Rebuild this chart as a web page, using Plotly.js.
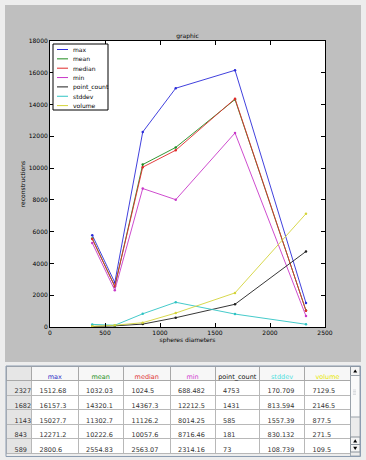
<!DOCTYPE html>
<html><head><meta charset="utf-8">
<script src="https://cdn.plot.ly/plotly-3.0.1.min.js"></script>
<style>html,body{margin:0;padding:0;background:#ededed;overflow:hidden;} #chart{width:366px;height:460px;}</style>
</head><body><div id="chart"></div>
<script>
// ---- data ----
const diameters = [384, 589, 843, 1143, 1682, 2327];
const maxVals = [5780, 2800.6, 12271.2, 15027.7, 16157.3, 1512.68];
const meanVals = [5570, 2554.83, 10222.6, 11302.7, 14320.1, 1032.03];
const medianVals = [5540, 2563.07, 10057.6, 11126.2, 14367.3, 1024.5];
const minVals = [5290, 2314.16, 8716.46, 8014.25, 12212.5, 688.482];
const pointCountVals = [30, 73, 181, 585, 1431, 4753];
const stddevVals = [165, 108.739, 830.132, 1557.39, 813.594, 170.709];
const volumeVals = [40, 109.5, 271.5, 877.5, 2146.5, 7129.5];
const seriesNames = ['max', 'mean', 'median', 'min', 'point_count', 'stddev', 'volume'];
const seriesValues = [maxVals, meanVals, medianVals, minVals, pointCountVals, stddevVals, volumeVals];
const lineColors = ['#2b2bd9', '#1e8a1e', '#e02a2a', '#c838c8', '#202020', '#30c4c4', '#d4d43a'];
const headerColors = ['#3030c8', '#249024', '#e03838', '#d040d0', '#101010', '#50e0e0', '#e8e800'];
const visibleTableRows = 5; // rows shown in the (scrolled) table view

const W = 366, H = 460;
const px = x => x / W, py = y => 1 - y / H;
const font = 'DejaVu Sans, sans-serif';

const traces = seriesNames.map((n, i) => ({
  type: 'scatter', mode: 'lines+markers', name: n,
  x: diameters, y: seriesValues[i],
  line: {color: lineColors[i], width: 0.9},
  marker: {color: lineColors[i], size: 2.5},
  showlegend: false, xaxis: 'x', yaxis: 'y'
}));

// table (rows in descending diameter order, visible part)
const order = diameters.map((d, i) => i).reverse().slice(0, visibleTableRows);
const fmt = v => String(Number(v.toPrecision(6)));
const tableCols = [order.map(i => String(diameters[i]))].concat(
  seriesValues.map(arr => order.map(i => fmt(arr[i]))));
traces.push({
  type: 'table',
  domain: {x: [px(6.5), px(350.5)], y: [py(456), py(366.5)]},
  columnwidth: [25, 46.5, 45.5, 46.5, 45, 44.5, 45, 46],
  header: {
    values: [''].concat(seriesNames),
    align: 'center', height: 14,
    fill: {color: ['#e6e6e6'].concat(seriesNames.map(() => '#f7f7f7'))},
    line: {color: '#a8a8a8', width: 1},
    font: {family: font, size: 6.5, color: ['#000'].concat(headerColors)}
  },
  cells: {
    values: tableCols,
    align: 'left', height: 14.6,
    fill: {color: ['#e4e4e4'].concat(seriesNames.map(() => '#ffffff'))},
    line: {color: '#b8b8b8', width: 1},
    font: {family: font, size: 6.5, color: '#333'}
  }
});

// shapes: figure background, plot area, legend, table frame and scrollbar
const shapes = [
  {type: 'rect', xref: 'paper', yref: 'paper', layer: 'below',
   x0: px(5), x1: px(361), y0: py(362), y1: py(5), fillcolor: '#bfbfbf', line: {width: 0}},
  {type: 'rect', xref: 'paper', yref: 'paper', layer: 'below',
   x0: px(50), x1: px(325), y0: py(327), y1: py(41), fillcolor: '#ffffff', line: {width: 0}},
  {type: 'rect', xref: 'paper', yref: 'paper',
   x0: px(53), x1: px(108), y0: py(110), y1: py(44), fillcolor: '#ffffff', line: {color: '#000', width: 1}},
  // scrollbar track
  {type: 'rect', xref: 'paper', yref: 'paper',
   x0: px(350.5), x1: px(360), y0: py(456), y1: py(366.5), fillcolor: '#ececec', line: {color: '#a0a8b0', width: 1}},
  // top button
  {type: 'rect', xref: 'paper', yref: 'paper',
   x0: px(350.5), x1: px(360), y0: py(375.5), y1: py(366.5), fillcolor: '#f4f4f4', line: {color: '#8a929a', width: 1}},
  // handle
  {type: 'rect', xref: 'paper', yref: 'paper',
   x0: px(350.5), x1: px(360), y0: py(417), y1: py(375.5), fillcolor: '#fafafa', line: {color: '#9aa2aa', width: 1}},
  // bottom buttons
  {type: 'rect', xref: 'paper', yref: 'paper',
   x0: px(350.5), x1: px(360), y0: py(444.5), y1: py(437), fillcolor: '#f4f4f4', line: {color: '#8a929a', width: 1}},
  {type: 'rect', xref: 'paper', yref: 'paper',
   x0: px(350.5), x1: px(360), y0: py(452), y1: py(444.5), fillcolor: '#f4f4f4', line: {color: '#8a929a', width: 1}},
  // table outer frame
  {type: 'rect', xref: 'paper', yref: 'paper',
   x0: px(6), x1: px(360.5), y0: py(456.5), y1: py(366), line: {color: '#8c9cb0', width: 1}}
];
// scrollbar arrows
const tri = (cx, cy, up) => {
  const h = up ? -1.6 : 1.6;
  return {type: 'path', xref: 'paper', yref: 'paper', fillcolor: '#000', line: {width: 0},
    path: `M ${px(cx - 2)} ${py(cy - h)} L ${px(cx + 2)} ${py(cy - h)} L ${px(cx)} ${py(cy + h)} Z`};
};
shapes.push(tri(355.2, 371, true), tri(355.2, 440.8, true), tri(355.2, 448.3, false));
// grip dots on handle
for (let k = 0; k < 4; k++) {
  shapes.push({type: 'line', xref: 'paper', yref: 'paper',
    x0: px(353), x1: px(357.5), y0: py(390 + k * 1.5), y1: py(390 + k * 1.5),
    line: {color: '#c4c8cc', width: 0.6, dash: 'dot'}});
}

const annotations = [];
seriesNames.forEach((n, i) => {
  const yy = 49.5 + 9.35 * i;
  shapes.push({type: 'line', xref: 'paper', yref: 'paper',
    x0: px(57), x1: px(68), y0: py(yy), y1: py(yy), line: {color: lineColors[i], width: 1}});
  annotations.push({xref: 'paper', yref: 'paper', x: px(70.5), y: py(yy), text: n,
    showarrow: false, xanchor: 'left', yanchor: 'middle',
    font: {family: font, size: 6, color: '#000'}});
});

const axisCommon = {
  showline: true, linecolor: '#000', linewidth: 1, mirror: 'ticks',
  ticks: 'inside', ticklen: 4, tickcolor: '#000', tickwidth: 1,
  showgrid: false, zeroline: false, tickformat: 'd',
  tickfont: {family: font, size: 6, color: '#000'}
};

const layout = {
  width: W, height: H,
  margin: {l: 0, r: 0, t: 0, b: 0},
  paper_bgcolor: '#ededed', plot_bgcolor: 'rgba(0,0,0,0)',
  showlegend: false,
  title: {text: 'graphic', x: px(187.5), y: py(36), xref: 'paper', yref: 'paper',
          xanchor: 'center', yanchor: 'middle', font: {family: font, size: 6, color: '#000'}},
  xaxis: Object.assign({}, axisCommon, {
    domain: [px(50), px(325)], range: [0, 2500], dtick: 500, tick0: 0,
    title: {text: 'spheres diameters', standoff: 1, font: {family: font, size: 6, color: '#000'}}
  }),
  yaxis: Object.assign({}, axisCommon, {
    domain: [py(327), py(41)], range: [0, 18000], dtick: 2000, tick0: 0,
    title: {text: 'reconstructions', standoff: 2, font: {family: font, size: 6, color: '#000'}}
  }),
  shapes: shapes,
  annotations: annotations
};

Plotly.newPlot('chart', traces, layout, {displayModeBar: false});
</script>
</body></html>
